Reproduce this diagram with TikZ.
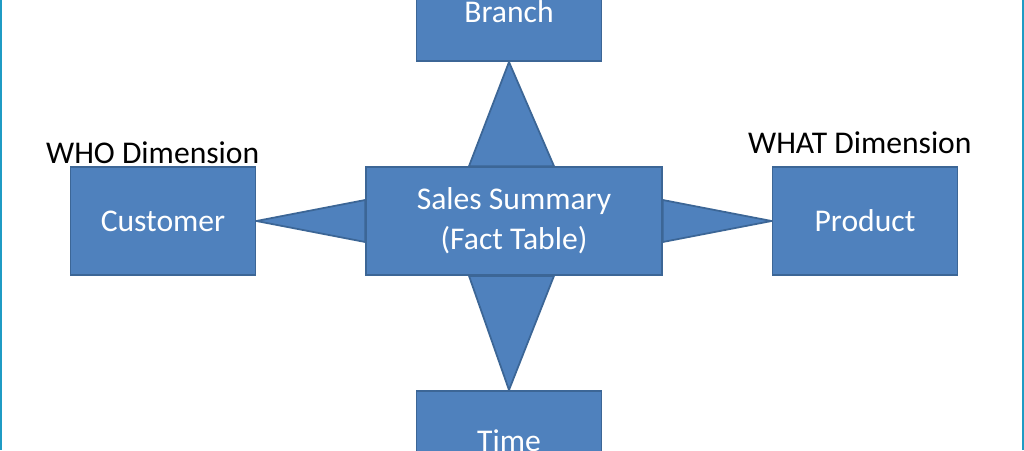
\documentclass[tikz,border=0pt]{standalone}
\usepackage{fontspec}
\setmainfont{Carlito}
\usetikzlibrary{calc}
\definecolor{boxcolor}{HTML}{4F81BD}
\definecolor{edgecolor}{HTML}{3C6696}
\definecolor{framecolor}{HTML}{1F9BC4}

\begin{document}
\begin{tikzpicture}[x=0.02cm,y=-0.02cm,
  dim/.style={rectangle,fill=boxcolor,draw=edgecolor,line width=1pt,
    minimum width=3.7cm,minimum height=2.16cm,text=white,font=\fontsize{18}{23}\selectfont,align=center},
  link/.style={fill=boxcolor,draw=edgecolor,line width=1pt,line join=round},
  tag/.style={font=\fontsize{18}{21}\selectfont}]
  \useasboundingbox (0,0) rectangle (1024,450);
  \clip (0,0) rectangle (1024,450);
  \node[dim,minimum width=5.92cm] (fact) at (514,221) {Sales Summary\\(Fact Table)};
  \node[dim] (cust) at (163,221) {Customer};
  \node[dim] (prod) at (865,221) {Product};
  \node[dim,anchor=south,text height=-0.5cm] (branch) at (509,62) {};
  \node[anchor=north,text=white,tag] at (509,-6) {Branch};
  \node[dim,anchor=north] (time) at (509,390) {};
  \node[anchor=north,text=white,tag] at (509,424) {Time};
%% connectors
  \draw[link] (cust.east) -- ($(fact.west)+(0,-21)$) -- ($(fact.west)+(0,21)$) -- cycle;
  \draw[link] (prod.west) -- ($(fact.east)+(0,-21)$) -- ($(fact.east)+(0,21)$) -- cycle;
  \draw[link] (branch.south) -- ($(fact.north)+(-45,0)$) -- ($(fact.north)+(40,0)$) -- cycle;
  \draw[link] (time.north) -- ($(fact.south)+(-45,0)$) -- ($(fact.south)+(40,0)$) -- cycle;
  \node[tag,anchor=south west,inner sep=1pt] (who) at (44,166) {WHO Dimension};
  \node[tag,anchor=south west,inner sep=1pt] (what) at (746,156) {WHAT Dimension};
  \draw[framecolor,line width=1.5pt] (1,0) -- (1,450) (1023,0) -- (1023,450);
\end{tikzpicture}
\end{document}
